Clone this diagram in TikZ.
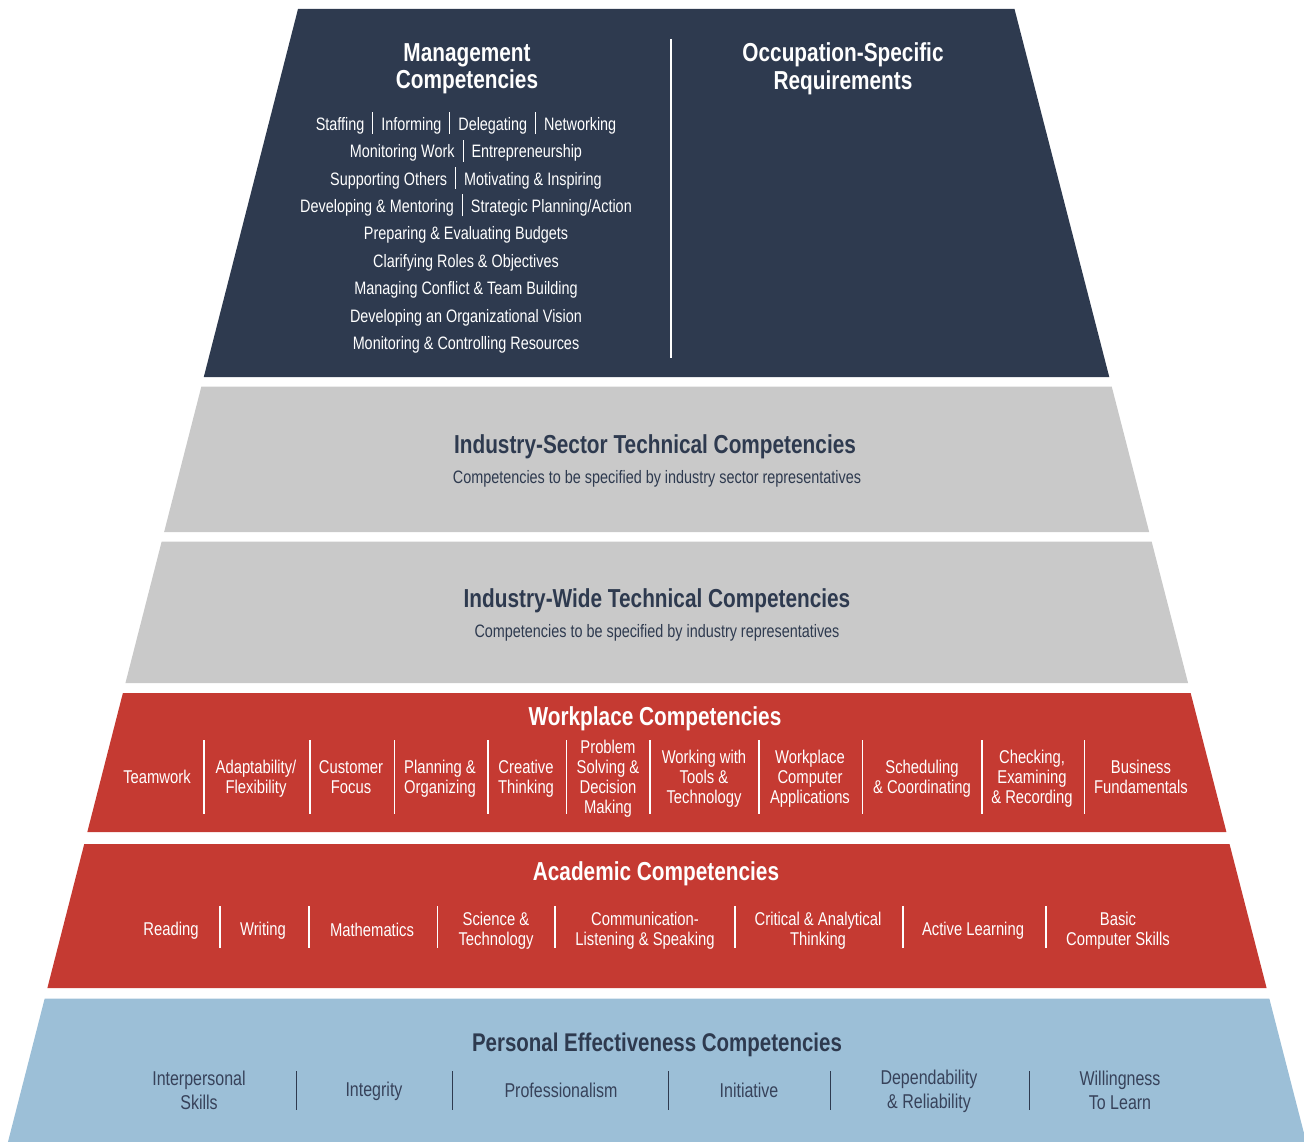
\documentclass[tikz,border=0pt]{standalone}
\usepackage{fontspec}
\setmainfont{Liberation Sans}[FakeStretch=0.8]
\usepackage{tikz}
\definecolor{navy}{HTML}{2E3A4F}
\definecolor{stone}{HTML}{C9C9C9}
\definecolor{brick}{HTML}{C53A32}
\definecolor{sky}{HTML}{9CBFD7}
\definecolor{slate}{HTML}{37425A}
\tikzstyle{head} = [text=white, font=\fontsize{26}{27.5}\selectfont\bfseries,
    align=center, inner sep=0pt]
\tikzstyle{darkhead} = [head, text=navy, anchor=base]
\tikzstyle{note} = [text=navy, font=\fontsize{18}{20}\selectfont, anchor=base, inner sep=0pt]
\tikzstyle{item} = [text=white, font=\fontsize{18.5}{20}\selectfont, align=center, inner sep=0pt]
\tikzstyle{pitem} = [item, text=slate, font=\fontsize{20}{24}\selectfont]
\tikzstyle{divider} = [draw=white, line width=1.2pt]
\tikzstyle{pdivider} = [draw=navy, line width=0.9pt]

% one tier of the pyramid: top edge, bottom edge, colour
\newcommand{\tier}[3]{%
  \fill[#3] ({298-0.256*(#1-9)},#1) -- ({1014.5+0.2575*(#1-9)},#1)
    -- ({1014.5+0.2575*(#2-9)},#2) -- ({298-0.256*(#2-9)},#2) -- cycle;}
\newcommand{\vsep}{\hspace{8pt}\textcolor{white}{\rule[-4pt]{1pt}{22pt}}\hspace{8pt}}

\begin{document}
\begin{tikzpicture}[x=1pt, y=-1pt]
      \useasboundingbox (0,0) rectangle (1304,1142);
      \clip (0,0) rectangle (1304,1142);

      \tier{9}{377}{navy}
      \tier{386.5}{532}{stone}
      \tier{541.5}{683}{stone}
      \tier{693}{832}{brick}
      \tier{844}{988}{brick}
      \tier{998.5}{1142}{sky}

      % top tier
      \node [head] (mgmt) at (467,69) {Management\\Competencies};
      \node [head] (occup) at (843,69) {Occupation-Specific\\Requirements};
      \draw [divider] (671,39) -- (671,358);
      \node [item, font=\fontsize{18}{27.4}\selectfont, anchor=north] (mlist) at (466,112)
         {Staffing\vsep Informing\vsep Delegating\vsep Networking\\
          Monitoring Work\vsep Entrepreneurship\\
          Supporting Others\vsep Motivating \& Inspiring\\
          Developing \& Mentoring\vsep Strategic Planning/Action\\
          Preparing \& Evaluating Budgets\\
          Clarifying Roles \& Objectives\\
          Managing Conflict \& Team Building\\
          Developing an Organizational Vision\\
          Monitoring \& Controlling Resources};

      % technical tiers
      \node [darkhead] (sector) at (655,453)
         {Industry-Sector Technical Competencies};
      \node [note] (sectornote) at (657,483.5)
         {Competencies to be specified by industry sector representatives};
      \node [darkhead] (wide) at (657,607)
         {Industry-Wide Technical Competencies};
      \node [note] (widenote) at (657,637.5)
         {Competencies to be specified by industry representatives};

      % workplace tier
      \node [head, anchor=base] (workplace) at (655,725) {Workplace Competencies};
      \node [item] (team) at (157,777) {Teamwork};
      \node [item] (adapt) at (256,779) {Adaptability/\\Flexibility};
      \node [item] (cust) at (351,777) {Customer\\Focus};
      \node [item] (plan) at (440,779) {Planning \&\\Organizing};
      \node [item] (creat) at (526,779) {Creative\\Thinking};
      \node [item] (prob) at (608,779) {Problem\\Solving \&\\Decision\\Making};
      \node [item] (tools) at (704,779) {Working with\\Tools \&\\Technology};
      \node [item] (apps) at (810,779) {Workplace\\Computer\\Applications};
      \node [item] (sched) at (922,779) {Scheduling\\\& Coordinating};
      \node [item] (check) at (1032,779) {Checking,\\Examining\\\& Recording};
      \node [item] (biz) at (1141,777) {Business\\Fundamentals};
      \draw [divider] (204,740) -- (204,814);
      \draw [divider] (310,740) -- (310,814);
      \draw [divider] (394.5,740) -- (394.5,814);
      \draw [divider] (488,740) -- (488,814);
      \draw [divider] (566.5,740) -- (566.5,814);
      \draw [divider] (650,740) -- (650,814);
      \draw [divider] (759,740) -- (759,814);
      \draw [divider] (862.5,740) -- (862.5,814);
      \draw [divider] (982,740) -- (982,814);
      \draw [divider] (1084.5,740) -- (1084.5,814);

      % academic tier
      \node [head, anchor=base] (academic) at (656,880) {Academic Competencies};
      \node [item] (read) at (171,931) {Reading};
      \node [item] (write) at (263,931) {Writing};
      \node [item] (math) at (372,929.5) {Mathematics};
      \node [item] (sci) at (496,931) {Science \&\\Technology};
      \node [item] (comm) at (645,931) {Communication-\\Listening \& Speaking};
      \node [item] (crit) at (818,931) {Critical \& Analytical\\Thinking};
      \node [item] (active) at (973,931) {Active Learning};
      \node [item] (basic) at (1118,931) {Basic\\Computer Skills};
      \draw [divider] (220,906) -- (220,948);
      \draw [divider] (309,906) -- (309,948);
      \draw [divider] (437.5,906) -- (437.5,948);
      \draw [divider] (555,906) -- (555,948);
      \draw [divider] (735,906) -- (735,948);
      \draw [divider] (903,906) -- (903,948);
      \draw [divider] (1046,906) -- (1046,948);

      % personal effectiveness tier
      \node [darkhead, font=\fontsize{25.6}{27}\selectfont\bfseries] (personal) at (657,1051)
         {Personal Effectiveness Competencies};
      \node [pitem] (inter) at (199,1090) {Interpersonal\\Skills};
      \node [pitem] (integ) at (374,1091.5) {Integrity};
      \node [pitem] (prof) at (561,1090) {Professionalism};
      \node [pitem] (init) at (749,1090) {Initiative};
      \node [pitem] (depend) at (929,1091) {Dependability\\\& Reliability};
      \node [pitem] (will) at (1120,1090) {Willingness\\To Learn};
      \draw [pdivider] (296,1071) -- (296,1110);
      \draw [pdivider] (452,1071) -- (452,1110);
      \draw [pdivider] (668.5,1071) -- (668.5,1110);
      \draw [pdivider] (830.5,1071) -- (830.5,1110);
      \draw [pdivider] (1029.5,1071) -- (1029.5,1110);
   \end{tikzpicture}
\end{document}
